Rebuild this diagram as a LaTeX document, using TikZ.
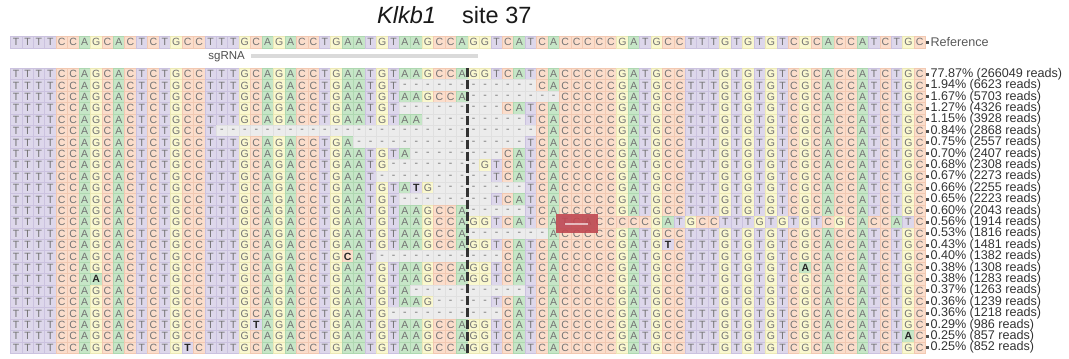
\documentclass[tikz,border=0pt]{standalone}
\usepackage{fontspec}
\setmainfont{Liberation Sans}
\usetikzlibrary{calc}

\definecolor{baseA}{RGB}{198,230,199}
\definecolor{edgeA}{RGB}{175,216,177}
\definecolor{baseC}{RGB}{251,221,203}
\definecolor{edgeC}{RGB}{242,201,178}
\definecolor{baseG}{RGB}{250,248,207}
\definecolor{edgeG}{RGB}{237,233,183}
\definecolor{baseT}{RGB}{221,215,235}
\definecolor{edgeT}{RGB}{203,194,223}
\definecolor{baseN}{RGB}{236,236,236}
\definecolor{edgeN}{RGB}{224,224,224}
\definecolor{lettergray}{RGB}{115,115,115}
\definecolor{insred}{RGB}{192,72,82}
\definecolor{sgbar}{RGB}{218,218,218}

\newcommand{\cw}{11.44}
\newcommand{\rh}{11.4}
\newcommand{\xo}{10.3}

\tikzset{
  basechar/.style={inner sep=0pt,font=\fontsize{10.5}{10.5}\selectfont,text=lettergray},
  subchar/.style={inner sep=0pt,font=\fontsize{10.5}{10.5}\selectfont\bfseries,text=black!85},
  readlabel/.style={anchor=west,inner sep=0pt,font=\fontsize{12.6}{12.6}\selectfont,text=black!80},
  reflabel/.style={readlabel,text=black!65},
  rowmark/.style={fill=black!70,inner sep=0pt,minimum size=3pt},
  titletext/.style={inner sep=0pt,font=\fontsize{23.5}{23.5}\selectfont,text=black!90},
  sglabel/.style={inner sep=0pt,font=\fontsize{11.5}{11.5}\selectfont,text=black!70},
  cutline/.style={line width=3pt,draw=black!80,dash pattern=on 9pt off 3pt},
}

% one cell of the alignment: fill, edge, letter, letter style
\newcommand{\basecell}[4]{%
  \path[fill=#1,draw=#2,line width=0.45pt] ({(\colno-1)*\cw+\xo},-\rowtop) rectangle ++(\cw,-\rh);
  \node[#4] (\rowid-\colno) at ({(\colno-0.5)*\cw+\xo},{-\rowtop-\rh/2}) {#3};}

\makeatletter
\@namedef{cell@A}{\basecell{baseA}{edgeA}{A}{basechar}}
\@namedef{cell@C}{\basecell{baseC}{edgeC}{C}{basechar}}
\@namedef{cell@G}{\basecell{baseG}{edgeG}{G}{basechar}}
\@namedef{cell@T}{\basecell{baseT}{edgeT}{T}{basechar}}
\@namedef{cell@a}{\basecell{baseA}{edgeA}{A}{subchar}}
\@namedef{cell@c}{\basecell{baseC}{edgeC}{C}{subchar}}
\@namedef{cell@g}{\basecell{baseG}{edgeG}{G}{subchar}}
\@namedef{cell@t}{\basecell{baseT}{edgeT}{T}{subchar}}
\@namedef{cell@-}{\basecell{baseN}{edgeN}{-}{basechar}}
\def\dobase#1{\edef\colno{\the\numexpr\colno+1\relax}\csname cell@#1\endcsname}
\def\readbase#1{%
  \ifx#1\relax\let\next\relax\else\def\next{\dobase#1\readbase}\fi
  \next}
\makeatother

% a row: name, top, sequence, label
\newcommand{\allelerow}[5][readlabel]{%
  \def\rowid{#2}\def\rowtop{#3}\def\colno{0}%
  \readbase#4\relax
  \node[rowmark] (#2m) at (927.5,{-\rowtop-\rh/2}) {};
  \node[#1] (#2p) at (930.3,{-\rowtop-\rh/2}) {#5};}

\begin{document}
\begin{tikzpicture}[x=1pt,y=1pt]
  \useasboundingbox (0,0) rectangle (1069,-359);
  \node[titletext,anchor=base west] (gene) at (377,-23) {\textit{Klkb1}};
  \node[titletext,anchor=base west] (site) at (462,-23) {site 37};

  \allelerow[reflabel]{ref}{36.5}{TTTTCCAGCACTCTGCCTTTGCAGACCTGAATGTAAGCCAGGTCATCACCCCCGATGCCTTTGTGTGTCGCACCATCTGC}{Reference}

  \node[sglabel,anchor=base east] (sglab) at (245,-59.5) {sgRNA};
  \coordinate (sgstart) at (251,-54);
  \coordinate (sgend) at (478,-58.3);
  \path[fill=sgbar] (sgstart) rectangle (sgend);

  \allelerow{r1}{68.3}{TTTTCCAGCACTCTGCCTTTGCAGACCTGAATGTAAGCCAGGTCATCACCCCCGATGCCTTTGTGTGTCGCACCATCTGC}{77.87\% (266049 reads)}
  \allelerow{r2}{79.7}{TTTTCCAGCACTCTGCCTTTGCAGACCTGAATGT------------CACCCCCGATGCCTTTGTGTGTCGCACCATCTGC}{1.94\% (6623 reads)}
  \allelerow{r3}{91.1}{TTTTCCAGCACTCTGCCTTTGCAGACCTGAATGTAAGCCA--------CCCCCGATGCCTTTGTGTGTCGCACCATCTGC}{1.67\% (5703 reads)}
  \allelerow{r4}{102.5}{TTTTCCAGCACTCTGCCTTTGCAGACCTGAATGT---------CATCACCCCCGATGCCTTTGTGTGTCGCACCATCTGC}{1.27\% (4326 reads)}
  \allelerow{r5}{113.9}{TTTTCCAGCACTCTGCCTTTGCAGACCTGAATGTAA---------TCACCCCCGATGCCTTTGTGTGTCGCACCATCTGC}{1.15\% (3928 reads)}
  \allelerow{r6}{125.3}{TTTTCCAGCACTCTGCCT----------------------------CACCCCCGATGCCTTTGTGTGTCGCACCATCTGC}{0.84\% (2868 reads)}
  \allelerow{r7}{136.7}{TTTTCCAGCACTCTGCCTTTGCAGACCTGA---------------TCACCCCCGATGCCTTTGTGTGTCGCACCATCTGC}{0.75\% (2557 reads)}
  \allelerow{r8}{148.1}{TTTTCCAGCACTCTGCCTTTGCAGACCTGAATGTA--------CATCACCCCCGATGCCTTTGTGTGTCGCACCATCTGC}{0.70\% (2407 reads)}
  \allelerow{r9}{159.5}{TTTTCCAGCACTCTGCCTTTGCAGACCTGAATG--------GTCATCACCCCCGATGCCTTTGTGTGTCGCACCATCTGC}{0.68\% (2308 reads)}
  \allelerow{r10}{170.9}{TTTTCCAGCACTCTGCCTTTGCAGACCTGAAT----------TCATCACCCCCGATGCCTTTGTGTGTCGCACCATCTGC}{0.67\% (2273 reads)}
  \allelerow{r11}{182.3}{TTTTCCAGCACTCTGCCTTTGCAGACCTGAATGTAtG--------TCACCCCCGATGCCTTTGTGTGTCGCACCATCTGC}{0.66\% (2255 reads)}
  \allelerow{r12}{193.7}{TTTTCCAGCACTCTGCCTTTGCAGACCTGAATGT--------TCATCACCCCCGATGCCTTTGTGTGTCGCACCATCTGC}{0.65\% (2223 reads)}
  \allelerow{r13}{205.1}{TTTTCCAGCACTCTGCCTTTGCAGACCTGAATGTAAGCCA-----TCACCCCCGATGCCTTTGTGTGTCGCACCATCTGC}{0.60\% (2043 reads)}
  \allelerow{r14}{216.5}{TTTTCCAGCACTCTGCCTTTGCAGACCTGAATGTAAGCCAGGTCATCATCACCCCCGATGCCTTTGTGTGTCGCACCATC}{0.56\% (1914 reads)}
  \allelerow{r15}{227.9}{TTTTCCAGCACTCTGCCTTTGCAGACCTGAATGTAAGCCA-------ACCCCCGATGCCTTTGTGTGTCGCACCATCTGC}{0.53\% (1816 reads)}
  \allelerow{r16}{239.3}{TTTTCCAGCACTCTGCCTTTGCAGACCTGAATGTAAGCCAGGTCATCACCCCCGATGtCTTTGTGTGTCGCACCATCTGC}{0.43\% (1481 reads)}
  \allelerow{r17}{250.7}{TTTTCCAGCACTCTGCCTTTGCAGACCTGcAT-----------CATCACCCCCGATGCCTTTGTGTGTCGCACCATCTGC}{0.40\% (1382 reads)}
  \allelerow{r18}{262.1}{TTTTCCAGCACTCTGCCTTTGCAGACCTGAATGTAAGCCAGGTCATCACCCCCGATGCCTTTGTGTGTCaCACCATCTGC}{0.38\% (1308 reads)}
  \allelerow{r19}{273.5}{TTTTCCAaCACTCTGCCTTTGCAGACCTGAATGTAAGCCAGGTCATCACCCCCGATGCCTTTGTGTGTCGCACCATCTGC}{0.38\% (1283 reads)}
  \allelerow{r20}{284.9}{TTTTCCAGCACTCTGCCTTTGCAGACCTGAATGTA----------TCACCCCCGATGCCTTTGTGTGTCGCACCATCTGC}{0.37\% (1263 reads)}
  \allelerow{r21}{296.3}{TTTTCCAGCACTCTGCCTTTGCAGACCTGAATGTAAG-----TCATCACCCCCGATGCCTTTGTGTGTCGCACCATCTGC}{0.36\% (1239 reads)}
  \allelerow{r22}{307.7}{TTTTCCAGCACTCTGCCTTTGCAGACCTGAATG----------CATCACCCCCGATGCCTTTGTGTGTCGCACCATCTGC}{0.36\% (1218 reads)}
  \allelerow{r23}{319.1}{TTTTCCAGCACTCTGCCTTTGtAGACCTGAATGTAAGCCAGGTCATCACCCCCGATGCCTTTGTGTGTCGCACCATCTGC}{0.29\% (986 reads)}
  \allelerow{r24}{330.5}{TTTTCCAGCACTCTGCCTTTGCAGACCTGAATGTAAGCCAGGTCATCACCCCCGATGCCTTTGTGTGTCGCACCATCTaC}{0.25\% (857 reads)}
  \allelerow{r25}{341.9}{TTTTCCAGCACTCTGtCTTTGCAGACCTGAATGTAAGCCAGGTCATCACCCCCGATGCCTTTGTGTGTCGCACCATCTGC}{0.25\% (852 reads)}

  % insertion in r14
  \path[fill=insred,fill opacity=0.9] (556,-214.3) rectangle (598,-233.3);
  \path[fill=white,fill opacity=0.6] (565,-223) rectangle (588,-225);

  % cut site
  \coordinate (cuttop) at (467.9,-68.3);
  \coordinate (cutbot) at (467.9,-353.3);
  \draw[cutline] (cuttop) -- (cutbot);
\end{tikzpicture}
\end{document}
